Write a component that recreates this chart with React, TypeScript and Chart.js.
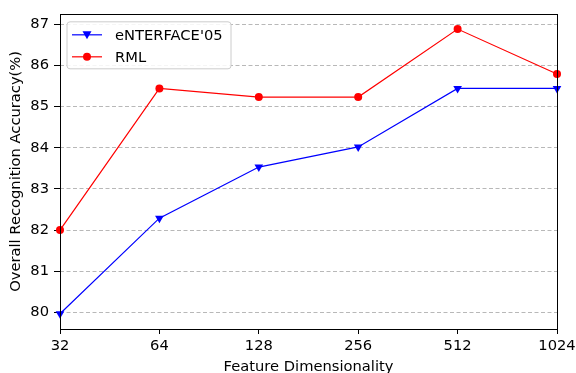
import React, { useEffect, useRef } from "react";
import { Chart, registerables } from "chart.js";

Chart.register(...registerables);

const categories = ["32", "64", "128", "256", "512", "1024"];
const enterfaceValues = [79.97, 82.29, 83.53, 84.02, 85.44, 85.44];
const rmlValues = [82.0, 85.44, 85.23, 85.23, 86.88, 85.79];
const yTicks = [80, 81, 82, 83, 84, 85, 86, 87];
const seriesNames = ["eNTERFACE'05", "RML"];

const FONT = "'DejaVu Sans', sans-serif";
const FS = 14.7;

const framePlugin = {
  id: "frame",
  afterDatasetsDraw(chart: any) {
    const { ctx, chartArea } = chart;
    ctx.save();
    ctx.strokeStyle = "#000";
    ctx.lineWidth = 1;
    ctx.strokeRect(
      Math.round(chartArea.left) + 0.5,
      Math.round(chartArea.top) + 0.5,
      Math.round(chartArea.right - chartArea.left),
      Math.round(chartArea.bottom - chartArea.top)
    );
    ctx.restore();
  },
};

const legendPlugin = {
  id: "mplLegend",
  afterDraw(chart: any) {
    const { ctx, chartArea } = chart;
    const x = chartArea.left + 7;
    const y = chartArea.top + 8;
    const w = 164;
    const h = 47;
    const r = 3;
    ctx.save();
    ctx.beginPath();
    ctx.moveTo(x + r, y);
    ctx.lineTo(x + w - r, y);
    ctx.quadraticCurveTo(x + w, y, x + w, y + r);
    ctx.lineTo(x + w, y + h - r);
    ctx.quadraticCurveTo(x + w, y + h, x + w - r, y + h);
    ctx.lineTo(x + r, y + h);
    ctx.quadraticCurveTo(x, y + h, x, y + h - r);
    ctx.lineTo(x, y + r);
    ctx.quadraticCurveTo(x, y, x + r, y);
    ctx.closePath();
    ctx.fillStyle = "rgba(255,255,255,0.85)";
    ctx.fill();
    ctx.strokeStyle = "#cccccc";
    ctx.lineWidth = 1;
    ctx.stroke();

    const colors = ["#0000ff", "#ff0000"];
    const rows = [y + 13, y + 35];
    chart.data.datasets.forEach((ds: any, i: number) => {
      const cy = rows[i];
      ctx.strokeStyle = colors[i];
      ctx.lineWidth = 1.2;
      ctx.beginPath();
      ctx.moveTo(x + 5, cy);
      ctx.lineTo(x + 35, cy);
      ctx.stroke();
      ctx.fillStyle = colors[i];
      const mx = x + 20;
      ctx.beginPath();
      if (i === 0) {
        ctx.moveTo(mx - 4.5, cy - 3.5);
        ctx.lineTo(mx + 4.5, cy - 3.5);
        ctx.lineTo(mx, cy + 4.5);
        ctx.closePath();
      } else {
        ctx.arc(mx, cy, 4, 0, Math.PI * 2);
      }
      ctx.fill();
      ctx.fillStyle = "#000";
      ctx.font = `${FS}px ${FONT}`;
      ctx.textBaseline = "middle";
      ctx.textAlign = "left";
      ctx.fillText(ds.label, x + 48, cy + 1);
    });
    ctx.restore();
  },
};

export default function App() {
  const ref = useRef<HTMLCanvasElement>(null);

  useEffect(() => {
    const canvas = ref.current;
    if (!canvas) return;
    const chart = new Chart(canvas, {
      type: "line",
      data: {
        labels: categories,
        datasets: [
          {
            label: seriesNames[0],
            data: enterfaceValues,
            borderColor: "#0000ff",
            backgroundColor: "#0000ff",
            borderWidth: 1.2,
            pointStyle: "triangle",
            rotation: 180,
            pointRadius: 5,
            pointBorderWidth: 0,
            tension: 0,
            fill: false,
          },
          {
            label: seriesNames[1],
            data: rmlValues,
            borderColor: "#ff0000",
            backgroundColor: "#ff0000",
            borderWidth: 1.2,
            pointStyle: "circle",
            pointRadius: 4,
            pointBorderWidth: 0,
            tension: 0,
            fill: false,
          },
        ],
      },
      options: {
        responsive: false,
        animation: false,
        devicePixelRatio: 1,
        layout: { padding: { top: 5, right: 19, bottom: 0, left: 0 } },
        plugins: {
          legend: { display: false },
          tooltip: { enabled: false },
        },
        scales: {
          x: {
            type: "category",
            offset: false,
            border: { display: false },
            grid: {
              drawOnChartArea: false,
              drawTicks: true,
              tickLength: 5,
              tickColor: "#000",
              tickWidth: 1,
            },
            ticks: {
              color: "#000",
              font: { family: FONT, size: FS },
              padding: 3,
              maxRotation: 0,
              autoSkip: false,
            },
            title: {
              display: true,
              text: "Feature Dimensionality",
              color: "#000",
              font: { family: FONT, size: FS },
              padding: { top: 0, bottom: -3 },
            },
            afterFit(scale: any) {
              scale.height = 44;
              scale.paddingRight = 0;
              scale.paddingLeft = 0;
            },
          },
          y: {
            type: "linear",
            min: 79.6,
            max: 87.25,
            border: { display: false, dash: [4, 2.5] },
            afterBuildTicks(scale: any) {
              scale.ticks = yTicks.map((v) => ({ value: v }));
            },
            grid: {
              color: "#b8b8b8",
              lineWidth: 1,
              drawTicks: true,
              tickLength: 6,
              tickColor: "#000",
              tickBorderDash: [],
              tickWidth: 1,
            },
            ticks: {
              color: "#000",
              font: { family: FONT, size: FS },
              padding: 5,
            },
            title: {
              display: true,
              text: "Overall Recognition Accuracy(%)",
              color: "#000",
              font: { family: FONT, size: FS },
              padding: { top: 7, bottom: 0 },
            },
            afterFit(scale: any) {
              scale.width = 60;
            },
          },
        },
      },
      plugins: [framePlugin, legendPlugin],
    } as any);
    return () => chart.destroy();
  }, []);

  return (
    <div style={{ position: "fixed", left: 0, top: 0, width: 576, height: 373, background: "#fff" }}>
      <canvas ref={ref} width={576} height={373} style={{ display: "block", width: 576, height: 373 }} />
    </div>
  );
}
